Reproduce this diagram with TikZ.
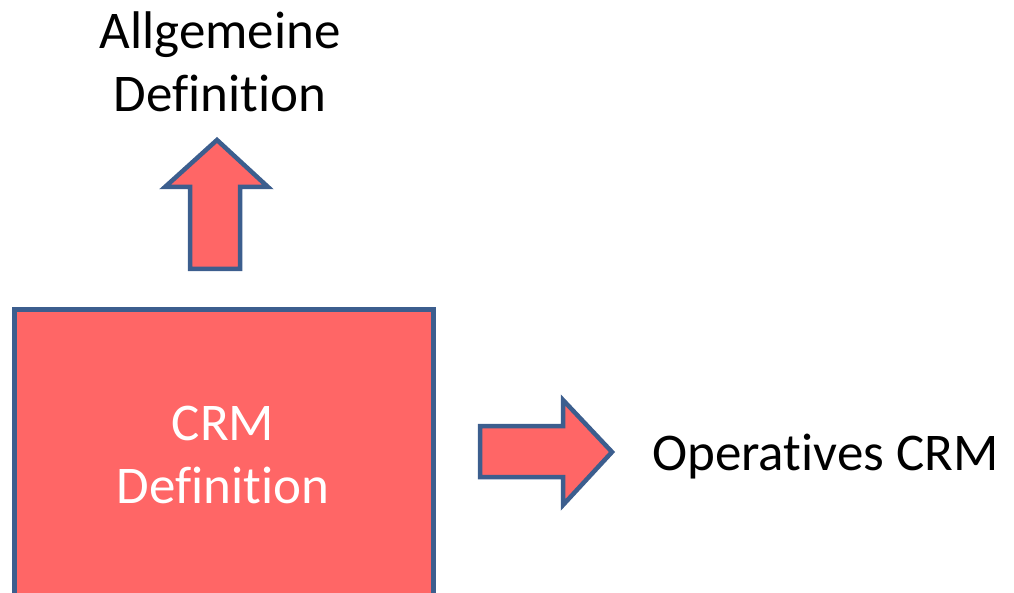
\documentclass[tikz,border=0pt]{standalone}
\usepackage{fontspec}
\setmainfont{Carlito}[Ligatures=NoCommon]
\usepackage{tikz}
\usetikzlibrary{calc}

\definecolor{crmred}{HTML}{FF6666}
\definecolor{crmblue}{HTML}{3C5E8E}

\begin{document}
\begin{tikzpicture}[x=1pt, y=-1pt,
    block/.style={fill=crmred, draw=crmblue, line width=4.5pt, line join=miter},
    label/.style={align=center, font=\fontsize{53}{63}\selectfont, inner sep=0pt}]
  \useasboundingbox (0,0) rectangle (1014,593);
  % ---- main box, runs off the bottom edge ----
  \draw[block] (14.5,309.5) rectangle (433.5,620);
  \node[label, text=white] (crm) at (223,455) {CRM\\Definition};
  % ---- arrow up to the general definition ----
  \draw[block] (190,269) -- (190,187) -- (165,187) -- (217,140)
    -- (268,187) -- (240,187) -- (240,269) -- cycle;
  \node[label] (allg) at (220,62) {Allgemeine\\Definition};
  % ---- arrow right to operative CRM ----
  \draw[block] (480,426) -- (563,426) -- (563,400) -- (612,452)
    -- (563,505) -- (563,477) -- (480,477) -- cycle;
  \node[label, anchor=base west] (oper) at (652,470) {Operatives CRM};
\end{tikzpicture}
\end{document}
